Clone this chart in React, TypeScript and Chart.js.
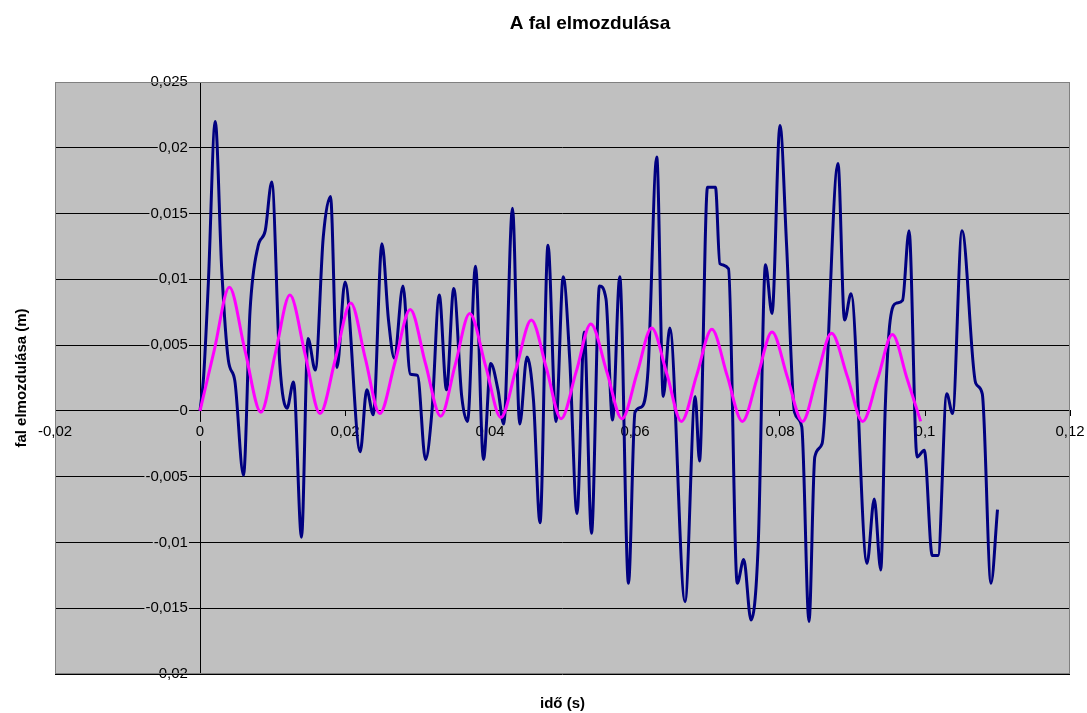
import { useEffect, useRef } from 'react';
import { Chart, registerables } from 'chart.js';

Chart.register(...registerables);

// Wall displacement (dark blue) sampled in time, seconds / metres
const wallTime = [
  0, 0.0005, 0.00115, 0.0021, 0.003, 0.0039, 0.0048, 0.006, 0.0069, 0.008,
  0.009, 0.0099, 0.011, 0.012, 0.0129, 0.014, 0.0149, 0.0159, 0.017, 0.018,
  0.0189, 0.02, 0.0221, 0.023, 0.0239, 0.0251, 0.026, 0.0268, 0.028, 0.029,
  0.03, 0.0311, 0.032, 0.033, 0.034, 0.035, 0.0361, 0.0369, 0.038, 0.0391,
  0.0401, 0.0411, 0.0419, 0.0431, 0.0441, 0.0451, 0.046, 0.0469, 0.048, 0.0491,
  0.0501, 0.051, 0.052, 0.053, 0.054, 0.0551, 0.056, 0.0569, 0.0579, 0.0591,
  0.06, 0.0609, 0.0618, 0.063, 0.0639, 0.0648, 0.0669, 0.0683, 0.0689, 0.07,
  0.0711, 0.0717, 0.0729, 0.0741, 0.075, 0.076, 0.077, 0.078, 0.0789, 0.08,
  0.0809, 0.082, 0.083, 0.084, 0.0848, 0.0858, 0.088, 0.0889, 0.0898, 0.092,
  0.093, 0.0939, 0.0945, 0.0952, 0.0961, 0.0969, 0.0978, 0.0989, 0.0999, 0.101,
  0.1018, 0.103, 0.1038, 0.1051, 0.107, 0.1079, 0.1091, 0.11,
];
const wallDisp = [
  0, 0.0026, 0.0097, 0.022, 0.0107, 0.0039, 0.0023, -0.0049, 0.0076, 0.0125,
  0.0137, 0.0174, 0.0036, 0.0002, 0.0022, -0.0096, 0.0055, 0.0031, 0.0132, 0.0163,
  0.0033, 0.0098, -0.0031, 0.0016, -0.0003, 0.0127, 0.0069, 0.004, 0.0095, 0.0028,
  0.0027, -0.0037, 0.0, 0.0088, 0.0016, 0.0093, 0.0011, -0.0008, 0.011, -0.0037,
  0.0036, 0.0016, -0.001, 0.0154, -0.001, 0.0041, 0.0008, -0.0085, 0.0126, -0.0008,
  0.0102, 0.0039, -0.0078, 0.006, -0.0093, 0.0095, 0.0085, -0.0007, 0.0102, -0.0131,
  -0.0001, 0.0003, 0.0031, 0.0193, 0.0011, 0.0063, -0.0145, 0.0011, -0.0038, 0.017,
  0.017, 0.0112, 0.0108, -0.0131, -0.0113, -0.0159, -0.0101, 0.0111, 0.0074, 0.0217,
  0.0127, -0.0001, -0.0012, -0.016, -0.0035, -0.0025, 0.0188, 0.0069, 0.0089, -0.0116,
  -0.0067, -0.0121, 0.0, 0.0069, 0.0082, 0.0084, 0.0137, -0.0035, -0.003, -0.011,
  -0.011, 0.0013, -0.0002, 0.0137, 0.0021, 0.0013, -0.0131, -0.0075,
];

// Reference oscillation (magenta)
const oscTime = [
  0, 0.002, 0.00405, 0.0062, 0.0084, 0.0104, 0.0124, 0.0145, 0.01655, 0.0187,
  0.0208, 0.0228, 0.0248, 0.0269, 0.029, 0.0311, 0.0332, 0.0352, 0.0372, 0.0394,
  0.0415, 0.0436, 0.0457, 0.0478, 0.0498, 0.0519, 0.0539, 0.0561, 0.0582, 0.0603,
  0.0623, 0.0644, 0.0664, 0.0685, 0.0706, 0.0727, 0.0748, 0.0769, 0.0789, 0.081,
  0.0831, 0.0851, 0.0871, 0.0893, 0.0914, 0.0935, 0.0955, 0.0975, 0.0994,
];
const oscDisp = [
  0, 0.0047, 0.0094, 0.0046, -0.0001, 0.0044, 0.0088, 0.0043, -0.0002, 0.004,
  0.0082, 0.004, -0.0002, 0.0037, 0.0077, 0.0036, -0.0004, 0.0035, 0.0074, 0.0034,
  -0.0005, 0.0032, 0.0069, 0.0032, -0.0006, 0.003, 0.0066, 0.003, -0.0006, 0.0029,
  0.0063, 0.0028, -0.0008, 0.0027, 0.0062, 0.0027, -0.0008, 0.0026, 0.006, 0.0026,
  -0.0008, 0.0026, 0.0059, 0.0026, -0.0008, 0.0025, 0.0058, 0.0025, -0.0008,
];

const xTickLabels = ['-0,02', '0', '0,02', '0,04', '0,06', '0,08', '0,1', '0,12'];
const yTickLabels = [
  '-0,02', '-0,015', '-0,01', '-0,005', '0', '0,005', '0,01', '0,015', '0,02', '0,025',
];

const chartTitle = 'A fal elmozdulása';
const xAxisTitle = 'idő (s)';
const yAxisTitle = 'fal elmozdulása (m)';

const FONT = '"Liberation Sans", Arial, sans-serif';
const PLOT_BG = '#C0C0C0';
const CLEAR = 'rgba(0,0,0,0)';

const framePlugin = {
  id: 'frame',
  beforeDraw(chart: any) {
    const { ctx, chartArea: a } = chart;
    ctx.save();
    ctx.fillStyle = '#ffffff';
    ctx.fillRect(0, 0, chart.width, chart.height);
    ctx.fillStyle = PLOT_BG;
    ctx.fillRect(a.left, a.top, a.right - a.left, a.bottom - a.top);
    ctx.restore();
  },
  beforeDatasetsDraw(chart: any) {
    const { ctx, chartArea: a } = chart;
    ctx.save();
    ctx.strokeStyle = '#808080';
    ctx.lineWidth = 1;
    ctx.strokeRect(a.left + 0.5, a.top + 0.5, a.right - a.left - 1, a.bottom - a.top - 1);
    ctx.restore();
  },
  afterDraw(chart: any) {
    const { ctx, chartArea: a } = chart;
    ctx.save();
    ctx.fillStyle = '#000';
    ctx.textAlign = 'center';
    ctx.textBaseline = 'alphabetic';
    ctx.font = `bold 19px ${FONT}`;
    ctx.fillText(chartTitle, 590, 29);
    ctx.font = `bold 15px ${FONT}`;
    ctx.fillText(xAxisTitle, (a.left + a.right) / 2, 708);
    ctx.translate(26, (a.top + a.bottom) / 2);
    ctx.rotate(-Math.PI / 2);
    ctx.fillText(yAxisTitle, 0, 0);
    ctx.restore();
  },
};

const isZero = (c: any) => !!c.tick && Math.abs(c.tick.value) < 1e-9;

export default function App() {
  const canvasRef = useRef<HTMLCanvasElement>(null);

  useEffect(() => {
    const canvas = canvasRef.current;
    if (!canvas) return;
    Chart.defaults.font.family = FONT;
    Chart.defaults.color = '#000';

    const chart = new Chart(canvas, {
      type: 'line',
      data: {
        datasets: [
          {
            label: 'rezgés',
            data: oscTime.map((t, i) => ({ x: t, y: oscDisp[i] })),
            borderColor: '#FF00FF',
            borderWidth: 3,
            pointRadius: 0,
            fill: false,
            cubicInterpolationMode: 'monotone',
          },
          {
            label: 'fal elmozdulása',
            data: wallTime.map((t, i) => ({ x: t, y: wallDisp[i] })),
            borderColor: '#000080',
            borderWidth: 3,
            pointRadius: 0,
            fill: false,
            cubicInterpolationMode: 'monotone',
          },
        ],
      },
      options: {
        animation: false,
        responsive: false,
        devicePixelRatio: 1,
        layout: { padding: { left: 55, right: 17, top: 82, bottom: 39 } },
        plugins: {
          legend: { display: false },
          title: { display: false },
          tooltip: { enabled: false },
        },
        scales: {
          x: {
            type: 'linear',
            min: -0.02,
            max: 0.12,
            position: { y: 0 },
            ticks: {
              stepSize: 0.02,
              autoSkip: false,
              maxRotation: 0,
              padding: 2,
              font: { size: 15, lineHeight: 1.8 },
              color: '#000',
              showLabelBackdrop: true,
              backdropColor: (c: any) => (isZero(c) ? PLOT_BG : CLEAR),
              backdropPadding: { top: -4, bottom: -4, left: 1, right: 1 },
              callback: (_v: any, i: number) => xTickLabels[i],
            },
            // vertical axis line at t = 0 plus short tick marks under the time axis
            grid: {
              drawOnChartArea: true,
              color: (c: any) => (isZero(c) ? '#000' : CLEAR),
              tickColor: '#000',
              tickLength: 5,
            },
            border: { color: '#000', width: 1 },
          },
          y: {
            type: 'linear',
            min: -0.02,
            max: 0.025,
            position: { x: -0.00166 },
            ticks: {
              stepSize: 0.005,
              autoSkip: false,
              padding: 0,
              font: { size: 15 },
              color: '#000',
              showLabelBackdrop: true,
              backdropColor: (c: any) => (c.index === 0 || c.index === 9 ? CLEAR : PLOT_BG),
              backdropPadding: 1,
              callback: (_v: any, i: number) => yTickLabels[i],
            },
            grid: { color: '#000', drawTicks: false, tickLength: 0 },
            border: { display: false },
          },
        },
      },
      plugins: [framePlugin],
    } as any);

    return () => chart.destroy();
  }, []);

  return (
    <div style={{ position: 'fixed', left: 0, top: 0, width: 1087, height: 713, background: '#fff' }}>
      <canvas ref={canvasRef} width={1087} height={713} style={{ display: 'block' }} />
    </div>
  );
}
